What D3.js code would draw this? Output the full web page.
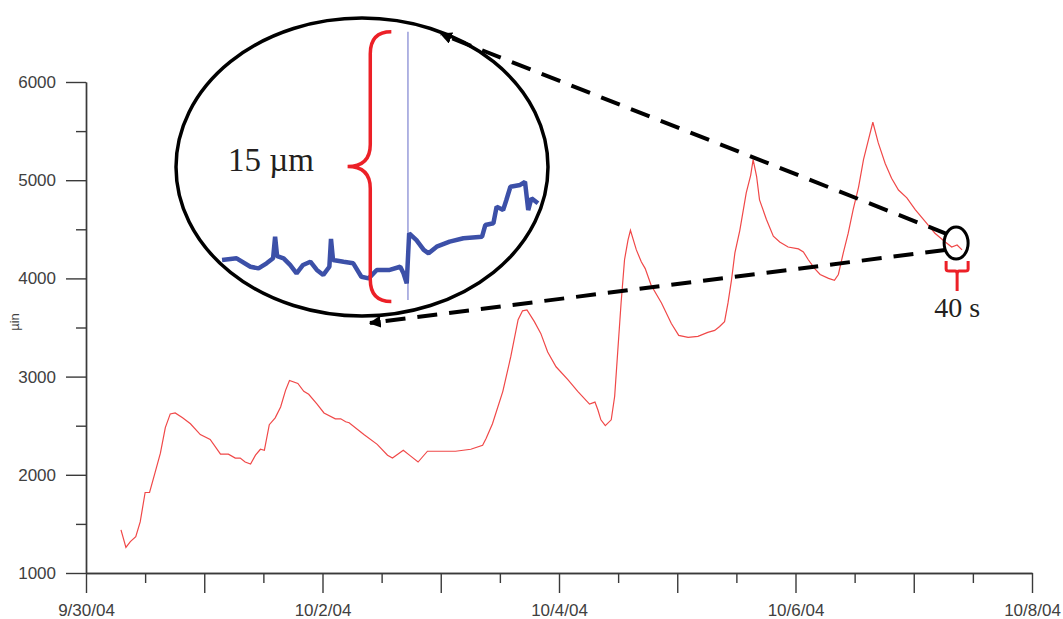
<!DOCTYPE html>
<html>
<head>
<meta charset="utf-8">
<script src="https://cdn.jsdelivr.net/npm/d3@7"></script>
<style>
  body { margin: 0; background: #fff; }
  svg { display: block; }
</style>
</head>
<body>
<svg id="chart" width="1063" height="619"></svg>
<script>
// main series: hours after 9/30/04 00:00 and displacement in micro-inches
var startDate = new Date(2004, 8, 30);
var endDate = new Date(2004, 9, 8);
var hours = [7.1, 8.1, 9.0, 10.1, 11.0, 12.0, 12.9, 14.0, 15.1, 16.1,
    17.1, 18.1, 19.6, 21.2, 23.2, 25.2, 27.3, 28.9, 30.3, 31.3,
    32.3, 33.4, 34.4, 35.4, 36.2, 37.2, 38.4, 39.5, 40.5, 41.3,
    43.0, 44.2, 45.2, 46.9, 48.3, 50.6, 51.7, 52.7, 53.4, 56.4,
    59.1, 61.2, 62.2, 64.4, 65.9, 67.4, 69.3, 72.0, 75.0, 78.1,
    80.5, 81.2, 82.5, 84.6, 86.2, 87.7, 88.6, 89.5, 91.0, 92.3,
    93.7, 95.4, 97.8, 99.8, 102.2, 103.3, 103.9, 104.5, 105.4, 106.6,
    107.3, 107.9, 108.6, 109.3, 110.0, 110.5, 111.7, 112.7, 113.5, 114.7,
    116.8, 118.8, 120.3, 122.2, 124.2, 126.2, 127.6, 128.6, 129.6, 130.3,
    131.0, 131.7, 132.7, 134.0, 134.9, 135.4, 136.1, 136.7, 138.1, 139.5,
    140.8, 142.5, 144.6, 145.6, 146.6, 147.9, 149.0, 150.7, 151.9, 152.7,
    153.7, 154.7, 155.7, 156.8, 157.8, 158.8, 159.7, 160.8, 162.2, 163.5,
    164.9, 166.6, 168.3, 170.3, 172.3, 174.4, 175.7, 176.8, 177.8];
var microInch = [1440, 1260, 1320, 1370, 1520, 1820, 1820, 2020, 2220, 2480,
    2620, 2630, 2580, 2520, 2410, 2360, 2210, 2210, 2170, 2170,
    2130, 2110, 2200, 2260, 2250, 2510, 2580, 2690, 2860, 2960,
    2930, 2850, 2820, 2720, 2630, 2570, 2570, 2540, 2530, 2410,
    2310, 2200, 2170, 2250, 2190, 2130, 2240, 2240, 2240, 2260,
    2300, 2370, 2520, 2850, 3200, 3580, 3670, 3680, 3560, 3440,
    3250, 3100, 2970, 2850, 2720, 2740, 2660, 2560, 2500, 2560,
    2800, 3240, 3750, 4190, 4390, 4490, 4290, 4170, 4100, 3930,
    3750, 3540, 3420, 3400, 3410, 3450, 3470, 3510, 3560, 3750,
    3980, 4260, 4490, 4870, 5050, 5210, 5040, 4800, 4600, 4430,
    4370, 4320, 4300, 4270, 4190, 4100, 4040, 4000, 3980, 4040,
    4260, 4460, 4700, 4930, 5210, 5410, 5590, 5380, 5170, 5020,
    4900, 4820, 4700, 4580, 4460, 4370, 4320, 4340, 4290];

var yMajorTicks = [1000, 2000, 3000, 4000, 5000, 6000];
var yMinorTicks = [1500, 2500, 3500, 4500, 5500];
var yLabel = "µin";

// zoomed 40 s window (inset): seconds and micrometres
var insetSeconds = [0.5, 2.3, 4.0, 5.0, 6.0, 6.8, 7.05, 7.3, 8.1, 8.9,
    9.7, 10.5, 11.4, 12.2, 13.0, 13.75, 13.95, 14.2, 15.5, 16.7,
    17.7, 18.6, 19.6, 21.2, 22.5, 22.9, 23.3, 23.6, 24.5, 25.4,
    26.0, 27.0, 28.6, 30.3, 32.6, 33.0, 34.0, 34.4, 35.2, 35.6,
    36.1, 37.3, 37.9, 38.3, 38.7, 39.5];
var insetMicron = [2.24, 2.33, 1.86, 1.77, 2.05, 2.33, 3.54, 2.45, 2.33, 1.96,
    1.49, 1.96, 2.14, 1.68, 1.40, 1.86, 3.41, 2.24, 2.14, 2.05,
    1.30, 1.21, 1.68, 1.68, 1.86, 1.49, 0.93, 3.73, 3.35, 2.80,
    2.61, 2.98, 3.26, 3.45, 3.54, 4.19, 4.29, 5.22, 5.03, 5.59,
    6.33, 6.43, 6.61, 5.03, 5.69, 5.41];
var spikeSecond = 23.45;
var spikeMicron = [0, 15];
var bracketMicron = [0, 15];
var bracketLabel = "15 µm";
var windowLabel = "40 s";
var zoomHour = 176.6, zoomValue = 4360;

var svg = d3.select("#chart");
var fontSans = "'Liberation Sans', Arial, sans-serif";
var fontSerif = "'Liberation Serif', 'Times New Roman', serif";

var x = d3.scaleTime().domain([startDate, endDate]).range([86, 1032]);
var y = d3.scaleLinear().domain([1000, 6000]).range([573, 82]);

var data = hours.map(function (h, i) {
    return { date: new Date(startDate.getTime() + h * 3600e3), value: microInch[i] };
});

// axes
var dayTicks = d3.timeDay.range(startDate, d3.timeDay.offset(endDate, 1));
var halfDayTicks = d3.timeHour.every(12).range(startDate, endDate).filter(function (d) { return d.getHours() === 12; });
var fmt = d3.timeFormat("%-m/%-d/%y");

function styleAxis(g) {
    g.selectAll("path, line").attr("stroke", "#3a3a3a").attr("stroke-width", 1.4);
    g.selectAll("text").attr("fill", "#404040").style("font-family", fontSans).style("font-size", "17px");
}

svg.append("g")
    .attr("transform", "translate(0," + y(1000) + ")")
    .call(d3.axisBottom(x).tickValues(halfDayTicks).tickSize(10).tickSizeOuter(0).tickFormat(""))
    .call(styleAxis);

svg.append("g")
    .attr("transform", "translate(0," + y(1000) + ")")
    .call(d3.axisBottom(x).tickValues(dayTicks).tickSize(20).tickSizeOuter(0).tickPadding(11)
        .tickFormat(function (d, i) { return i % 2 === 0 ? fmt(d) : ""; }))
    .call(styleAxis);

svg.append("g")
    .attr("transform", "translate(" + x(startDate) + ",0)")
    .call(d3.axisLeft(y).tickValues(yMinorTicks).tickSize(10).tickSizeOuter(0).tickFormat(""))
    .call(styleAxis);

svg.append("g")
    .attr("transform", "translate(" + x(startDate) + ",0)")
    .call(d3.axisLeft(y).tickValues(yMajorTicks).tickSize(20).tickSizeOuter(0).tickPadding(10)
        .tickFormat(d3.format("d")))
    .call(styleAxis);

svg.append("text")
    .attr("transform", "translate(19," + 322 + ") rotate(-90)")
    .attr("text-anchor", "middle")
    .attr("fill", "#404040")
    .style("font-family", fontSans)
    .style("font-size", "13px")
    .text(yLabel);

// main trace
var line = d3.line()
    .x(function (d) { return x(d.date); })
    .y(function (d) { return y(d.value); });

svg.append("path")
    .datum(data)
    .attr("d", line)
    .attr("fill", "none")
    .attr("stroke", "#f04848")
    .attr("stroke-width", 1.2);

// small circle around the zoomed window
var zx = x(new Date(startDate.getTime() + zoomHour * 3600e3)), zy = y(zoomValue);

// inset
var inset = { cx: 362, cy: 167, rx: 186, ry: 149 };
var xi = d3.scaleLinear().domain([0, 40]).range([218, 542]);
var yi = d3.scaleLinear().domain([0, 15]).range([300, 31.7]);

var defs = svg.append("defs");
defs.append("clipPath").attr("id", "insetClip")
    .append("ellipse")
    .attr("cx", inset.cx).attr("cy", inset.cy).attr("rx", inset.rx).attr("ry", inset.ry);

defs.append("marker")
    .attr("id", "arrow")
    .attr("viewBox", "0 0 10 10")
    .attr("refX", 9).attr("refY", 5)
    .attr("markerWidth", 12).attr("markerHeight", 12)
    .attr("markerUnits", "userSpaceOnUse")
    .attr("orient", "auto")
    .append("path")
    .attr("d", "M0,0 L10,5 L0,10 z")
    .attr("fill", "#000");

var insetData = insetSeconds.map(function (s, i) { return [s, insetMicron[i]]; });
var insetG = svg.append("g").attr("clip-path", "url(#insetClip)");

insetG.append("line")
    .attr("x1", xi(spikeSecond)).attr("x2", xi(spikeSecond))
    .attr("y1", yi(spikeMicron[0])).attr("y2", yi(spikeMicron[1]))
    .attr("stroke", "#9ea2dc")
    .attr("stroke-width", 1.6);

insetG.append("path")
    .datum(insetData)
    .attr("d", d3.line().x(function (d) { return xi(d[0]); }).y(function (d) { return yi(d[1]); }))
    .attr("fill", "none")
    .attr("stroke", "#3c50a8")
    .attr("stroke-width", 4.5)
    .attr("stroke-linejoin", "bevel");

// red brace for 15 um
var bTop = yi(bracketMicron[1]), bBot = yi(bracketMicron[0]) + 1.5, bMid = (bTop + bBot) / 2;
var xs = xi(18.8), xe = xi(21.4), xt = xi(16.0), r = 22;
svg.append("path")
    .attr("d", "M" + xe + "," + bTop +
        " Q" + xs + "," + bTop + " " + xs + "," + (bTop + r) +
        " L" + xs + "," + (bMid - r) +
        " Q" + xs + "," + bMid + " " + xt + "," + bMid +
        " Q" + xs + "," + bMid + " " + xs + "," + (bMid + r) +
        " L" + xs + "," + (bBot - r) +
        " Q" + xs + "," + bBot + " " + xe + "," + bBot)
    .attr("fill", "none")
    .attr("stroke", "#ec2027")
    .attr("stroke-width", 3.5);

svg.append("text")
    .attr("x", 228).attr("y", 171)
    .attr("fill", "#231f20")
    .style("font-family", fontSerif)
    .style("font-size", "33px")
    .text(bracketLabel);

svg.append("ellipse")
    .attr("cx", inset.cx).attr("cy", inset.cy).attr("rx", inset.rx).attr("ry", inset.ry)
    .attr("fill", "none")
    .attr("stroke", "#000")
    .attr("stroke-width", 3.5);

// dashed pointers from the small circle to the inset
svg.append("line")
    .attr("x1", zx - 9).attr("y1", zy - 9)
    .attr("x2", 441).attr("y2", 34)
    .attr("stroke", "#000").attr("stroke-width", 4)
    .attr("stroke-dasharray", "20,12")
    .attr("marker-end", "url(#arrow)");

svg.append("line")
    .attr("x1", zx - 11).attr("y1", zy + 7)
    .attr("x2", 370).attr("y2", 323)
    .attr("stroke", "#000").attr("stroke-width", 4)
    .attr("stroke-dasharray", "20,12")
    .attr("marker-end", "url(#arrow)");

svg.append("ellipse")
    .attr("cx", zx).attr("cy", zy).attr("rx", 12).attr("ry", 16)
    .attr("fill", "none")
    .attr("stroke", "#000")
    .attr("stroke-width", 3);

// small red brace for 40 s
var sl = zx - 10, sr = zx + 12, st = zy + 18, sb = zy + 28, sm = zx + 1;
svg.append("path")
    .attr("d", "M" + sl + "," + st + " L" + sl + "," + (sb - 2) +
        " Q" + sl + "," + sb + " " + (sl + 3) + "," + sb +
        " L" + (sm - 2) + "," + sb + " Q" + sm + "," + sb + " " + sm + "," + (sb + 4) +
        " L" + sm + "," + (sb + 20) +
        " M" + sm + "," + (sb + 4) + " Q" + sm + "," + sb + " " + (sm + 2) + "," + sb +
        " L" + (sr - 3) + "," + sb + " Q" + sr + "," + sb + " " + sr + "," + (sb - 2) +
        " L" + sr + "," + st)
    .attr("fill", "none")
    .attr("stroke", "#ec2027")
    .attr("stroke-width", 3);

svg.append("text")
    .attr("x", sm).attr("y", 317)
    .attr("text-anchor", "middle")
    .attr("fill", "#231f20")
    .style("font-family", fontSerif)
    .style("font-size", "28px")
    .text(windowLabel);
</script>
</body>
</html>
